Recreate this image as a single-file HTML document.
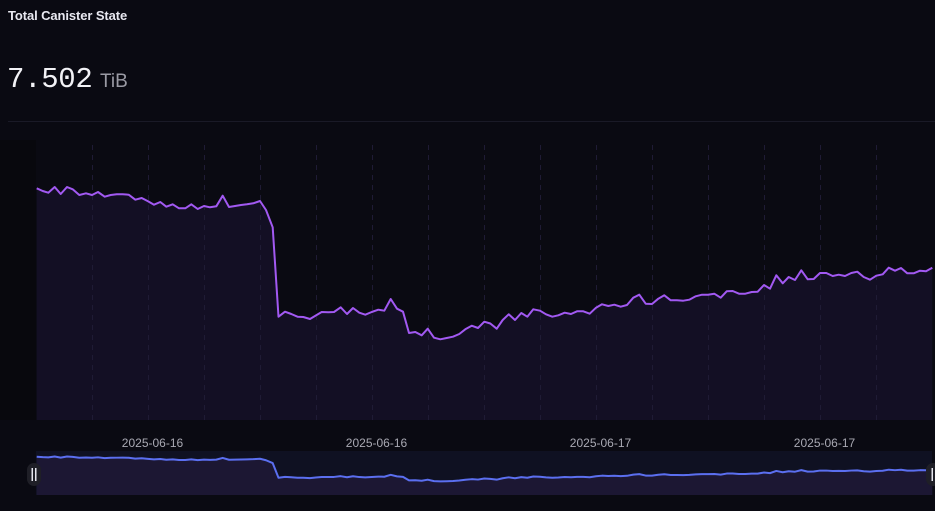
<!DOCTYPE html>
<html><head><meta charset="utf-8">
<style>
html,body{margin:0;padding:0;background:#0a0a12;}
body{width:935px;height:511px;overflow:hidden;position:relative;font-family:"Liberation Sans",sans-serif;}
.title{position:absolute;left:8px;top:8px;font-size:13px;font-weight:bold;color:#e8e8f0;letter-spacing:-0.1px;}
.val{position:absolute;left:7px;top:63px;font-family:"Liberation Mono",monospace;font-size:29px;color:#f2f2f6;letter-spacing:-0.3px;}
.unit{position:absolute;left:100px;top:71px;font-size:19px;color:#9a9aa4;}
.sep{position:absolute;left:8px;right:0;top:121px;height:1px;background:#1a1a27;}
svg{position:absolute;left:0;top:0;}
</style></head><body>
<div class="title">Total Canister State</div>
<div class="val">7.502</div>
<div class="unit">TiB</div>
<div class="sep"></div>
<svg width="935" height="511" viewBox="0 0 935 511">
<defs>
<path id="pts" vector-effect="non-scaling-stroke" d="M36.7,188.3 L42.7,191 L48.3,192.7 L54.7,187 L60.7,194 L67,187 L72.7,189.3 L79.3,195 L86,193.3 L92,195 L98,192 L104.7,196.7 L110.7,195 L116.7,194.3 L122.7,194.3 L128.7,194.7 L135.3,199.7 L141.7,198 L148,201.3 L154,204.7 L160.3,202 L166.3,206.7 L172.7,204.3 L179,208.3 L185.3,208.3 L191.3,204.3 L197.7,209 L204,206 L210,207.3 L216.3,206.3 L222.7,195.7 L229,207 L235,206 L241,205 L247,204.3 L253.3,203.3 L260,201 L266,210 L272.7,227.3 L278.5,316.7 L285,311.7 L291.3,314 L297.5,316.7 L303.3,317 L310,319 L315.8,315.5 L321.7,312 L328.3,312.3 L334,312 L340.7,307.3 L347,314 L353,308 L359.3,312.7 L365.3,314.7 L371.7,312 L378.3,309.7 L384.3,310.7 L390.7,299 L397,308.7 L403,311.7 L409,333 L415.3,332 L421.7,335.3 L427.7,328.7 L434,337.7 L440.3,339.3 L446.7,338 L453,336.7 L459.3,334 L465.3,329.3 L471.7,325.7 L478,328 L484.3,321.7 L490.3,323.5 L496.7,328.7 L502.7,320 L508.7,314.3 L515,320 L521.3,313 L527.3,316.7 L533.3,309.3 L540,310.7 L546,314.3 L552.3,316.7 L558.3,315.3 L564.7,312.7 L571,314 L577,311.3 L583.3,311.3 L589.7,313.7 L596,307.7 L602,304.3 L608.3,306 L614.3,304.7 L620.7,306.7 L627,305 L633.3,297.7 L639.3,294.7 L645.7,303.7 L652,304 L658.3,298.7 L664.3,295.3 L670.7,300.3 L677,300.3 L683.3,300.7 L689.3,299.7 L695.7,296.3 L702,294.7 L708,294.7 L714.3,293.7 L720.7,297.7 L726.7,291.3 L732.7,291 L739,293.7 L745.3,293.7 L751.7,292 L757.7,291.7 L764,285 L770,288.7 L776.3,275.3 L782.7,283.3 L788.7,277 L795,280 L801.3,270.3 L807.7,279.3 L813.7,279 L820,273 L826.3,273 L832.7,276 L838.7,274.7 L845,276 L851.3,273 L857.3,271.7 L863.7,277 L870,279.7 L876.3,275.7 L882.7,274.3 L888.7,267.7 L895,270.7 L901,268 L907.3,273.3 L913.7,273.3 L920,270.7 L926,271.3 L932.3,267.7"/>
</defs>
<rect x="0" y="140" width="36" height="280" fill="#08080d"/>
<!-- main area fill -->
<path d="M36.7,188.3 L42.7,191 L48.3,192.7 L54.7,187 L60.7,194 L67,187 L72.7,189.3 L79.3,195 L86,193.3 L92,195 L98,192 L104.7,196.7 L110.7,195 L116.7,194.3 L122.7,194.3 L128.7,194.7 L135.3,199.7 L141.7,198 L148,201.3 L154,204.7 L160.3,202 L166.3,206.7 L172.7,204.3 L179,208.3 L185.3,208.3 L191.3,204.3 L197.7,209 L204,206 L210,207.3 L216.3,206.3 L222.7,195.7 L229,207 L235,206 L241,205 L247,204.3 L253.3,203.3 L260,201 L266,210 L272.7,227.3 L278.5,316.7 L285,311.7 L291.3,314 L297.5,316.7 L303.3,317 L310,319 L315.8,315.5 L321.7,312 L328.3,312.3 L334,312 L340.7,307.3 L347,314 L353,308 L359.3,312.7 L365.3,314.7 L371.7,312 L378.3,309.7 L384.3,310.7 L390.7,299 L397,308.7 L403,311.7 L409,333 L415.3,332 L421.7,335.3 L427.7,328.7 L434,337.7 L440.3,339.3 L446.7,338 L453,336.7 L459.3,334 L465.3,329.3 L471.7,325.7 L478,328 L484.3,321.7 L490.3,323.5 L496.7,328.7 L502.7,320 L508.7,314.3 L515,320 L521.3,313 L527.3,316.7 L533.3,309.3 L540,310.7 L546,314.3 L552.3,316.7 L558.3,315.3 L564.7,312.7 L571,314 L577,311.3 L583.3,311.3 L589.7,313.7 L596,307.7 L602,304.3 L608.3,306 L614.3,304.7 L620.7,306.7 L627,305 L633.3,297.7 L639.3,294.7 L645.7,303.7 L652,304 L658.3,298.7 L664.3,295.3 L670.7,300.3 L677,300.3 L683.3,300.7 L689.3,299.7 L695.7,296.3 L702,294.7 L708,294.7 L714.3,293.7 L720.7,297.7 L726.7,291.3 L732.7,291 L739,293.7 L745.3,293.7 L751.7,292 L757.7,291.7 L764,285 L770,288.7 L776.3,275.3 L782.7,283.3 L788.7,277 L795,280 L801.3,270.3 L807.7,279.3 L813.7,279 L820,273 L826.3,273 L832.7,276 L838.7,274.7 L845,276 L851.3,273 L857.3,271.7 L863.7,277 L870,279.7 L876.3,275.7 L882.7,274.3 L888.7,267.7 L895,270.7 L901,268 L907.3,273.3 L913.7,273.3 L920,270.7 L926,271.3 L932.3,267.7 L932.3,420 L36.7,420 Z" fill="#130f24"/>
<!-- dashed grid lines -->
<g stroke="#1f1b35" stroke-width="1" stroke-dasharray="5,5">
<line x1="92.5" y1="145" x2="92.5" y2="420"/><line x1="148.5" y1="145" x2="148.5" y2="420"/>
<line x1="204.5" y1="145" x2="204.5" y2="420"/><line x1="260.5" y1="145" x2="260.5" y2="420"/>
<line x1="316.5" y1="145" x2="316.5" y2="420"/><line x1="372.5" y1="145" x2="372.5" y2="420"/>
<line x1="428.5" y1="145" x2="428.5" y2="420"/><line x1="484.5" y1="145" x2="484.5" y2="420"/>
<line x1="540.5" y1="145" x2="540.5" y2="420"/><line x1="596.5" y1="145" x2="596.5" y2="420"/>
<line x1="652.5" y1="145" x2="652.5" y2="420"/><line x1="708.5" y1="145" x2="708.5" y2="420"/>
<line x1="764.5" y1="145" x2="764.5" y2="420"/><line x1="820.5" y1="145" x2="820.5" y2="420"/>
<line x1="876.5" y1="145" x2="876.5" y2="420"/>
</g>
<use href="#pts" fill="none" stroke="#a259f2" stroke-width="2" stroke-linejoin="round"/>
<!-- x labels -->
<g font-family="Liberation Sans, sans-serif" font-size="12" fill="#a9a9b3" text-anchor="middle">
<text x="152.5" y="447">2025-06-16</text>
<text x="376.5" y="447">2025-06-16</text>
<text x="600.5" y="447">2025-06-17</text>
<text x="824.5" y="447">2025-06-17</text>
</g>
<!-- navigator -->
<rect x="36" y="451" width="896" height="44" fill="#0f1122"/>
<g transform="translate(0,425.9) scale(1,0.1636)">
<path d="M36.7,188.3 L42.7,191 L48.3,192.7 L54.7,187 L60.7,194 L67,187 L72.7,189.3 L79.3,195 L86,193.3 L92,195 L98,192 L104.7,196.7 L110.7,195 L116.7,194.3 L122.7,194.3 L128.7,194.7 L135.3,199.7 L141.7,198 L148,201.3 L154,204.7 L160.3,202 L166.3,206.7 L172.7,204.3 L179,208.3 L185.3,208.3 L191.3,204.3 L197.7,209 L204,206 L210,207.3 L216.3,206.3 L222.7,195.7 L229,207 L235,206 L241,205 L247,204.3 L253.3,203.3 L260,201 L266,210 L272.7,227.3 L278.5,316.7 L285,311.7 L291.3,314 L297.5,316.7 L303.3,317 L310,319 L315.8,315.5 L321.7,312 L328.3,312.3 L334,312 L340.7,307.3 L347,314 L353,308 L359.3,312.7 L365.3,314.7 L371.7,312 L378.3,309.7 L384.3,310.7 L390.7,299 L397,308.7 L403,311.7 L409,333 L415.3,332 L421.7,335.3 L427.7,328.7 L434,337.7 L440.3,339.3 L446.7,338 L453,336.7 L459.3,334 L465.3,329.3 L471.7,325.7 L478,328 L484.3,321.7 L490.3,323.5 L496.7,328.7 L502.7,320 L508.7,314.3 L515,320 L521.3,313 L527.3,316.7 L533.3,309.3 L540,310.7 L546,314.3 L552.3,316.7 L558.3,315.3 L564.7,312.7 L571,314 L577,311.3 L583.3,311.3 L589.7,313.7 L596,307.7 L602,304.3 L608.3,306 L614.3,304.7 L620.7,306.7 L627,305 L633.3,297.7 L639.3,294.7 L645.7,303.7 L652,304 L658.3,298.7 L664.3,295.3 L670.7,300.3 L677,300.3 L683.3,300.7 L689.3,299.7 L695.7,296.3 L702,294.7 L708,294.7 L714.3,293.7 L720.7,297.7 L726.7,291.3 L732.7,291 L739,293.7 L745.3,293.7 L751.7,292 L757.7,291.7 L764,285 L770,288.7 L776.3,275.3 L782.7,283.3 L788.7,277 L795,280 L801.3,270.3 L807.7,279.3 L813.7,279 L820,273 L826.3,273 L832.7,276 L838.7,274.7 L845,276 L851.3,273 L857.3,271.7 L863.7,277 L870,279.7 L876.3,275.7 L882.7,274.3 L888.7,267.7 L895,270.7 L901,268 L907.3,273.3 L913.7,273.3 L920,270.7 L926,271.3 L932.3,267.7 L932.3,422.4 L36.7,422.4 Z" fill="#1c1733"/>
<use href="#pts" fill="none" stroke="#5b6ff0" stroke-width="2" stroke-linejoin="round"/>
</g>
<!-- handles -->
<rect x="27" y="463" width="14" height="23" rx="7" fill="#1f1f27"/>
<rect x="31.5" y="468" width="1.5" height="13" fill="#e6e6ee"/>
<rect x="35" y="468" width="1.5" height="13" fill="#e6e6ee"/>
<rect x="926" y="463" width="14" height="23" rx="7" fill="#1f1f27"/>
<rect x="931.5" y="468" width="1.5" height="13" fill="#e6e6ee"/>
</svg>
</body></html>
